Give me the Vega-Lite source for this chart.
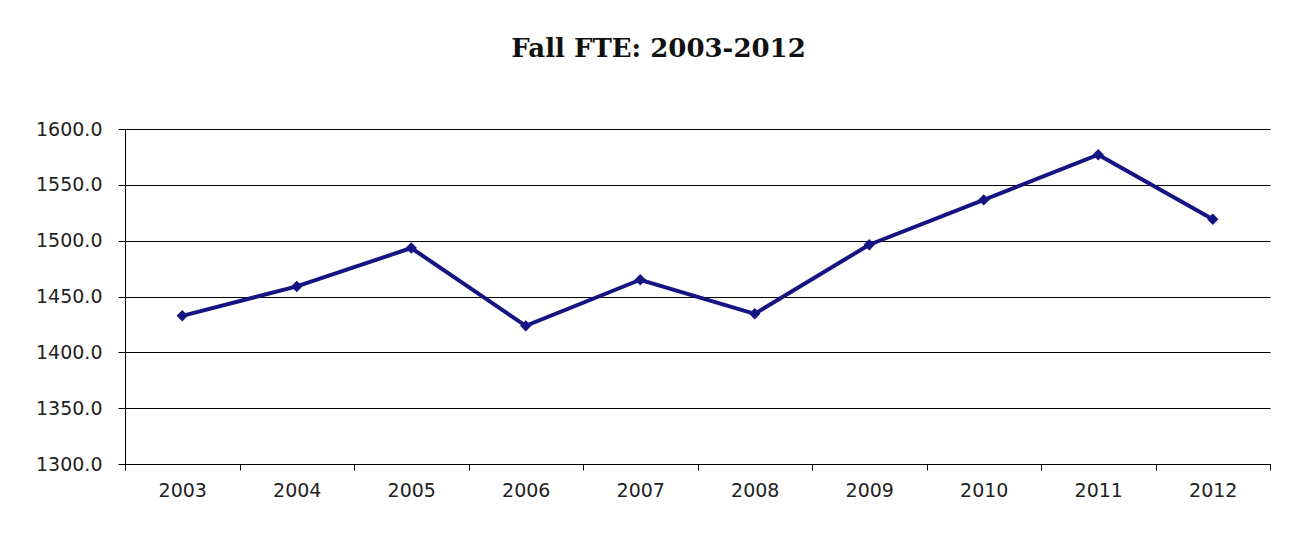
{
  "$schema": "https://vega.github.io/schema/vega-lite/v6.json",
  "width": 1145,
  "height": 335,
  "autosize": {"type": "none"},
  "padding": {"left": 125, "top": 129, "right": 26, "bottom": 86},
  "background": "white",
  "title": {
    "text": "Fall FTE: 2003-2012",
    "font": "DejaVu Serif",
    "fontSize": 26,
    "fontWeight": "bold",
    "color": "#111111",
    "anchor": "middle",
    "dx": -39,
    "offset": 58
  },
  "data": {
    "values": [
      {"year": "2003", "fte": 1432.7},
      {"year": "2004", "fte": 1459.0},
      {"year": "2005", "fte": 1493.4},
      {"year": "2006", "fte": 1423.7},
      {"year": "2007", "fte": 1465.0},
      {"year": "2008", "fte": 1434.5},
      {"year": "2009", "fte": 1496.4},
      {"year": "2010", "fte": 1536.5},
      {"year": "2011", "fte": 1577.0},
      {"year": "2012", "fte": 1519.2}
    ]
  },
  "mark": {
    "type": "line",
    "color": "#141482",
    "strokeWidth": 4,
    "point": {"shape": "diamond", "size": 130, "filled": true, "color": "#141482"}
  },
  "encoding": {
    "x": {
      "field": "year",
      "type": "ordinal",
      "title": null,
      "scale": {"type": "band", "paddingInner": 0, "paddingOuter": 0},
      "axis": {
        "labelAngle": 0,
        "labelFont": "DejaVu Sans",
        "labelFontSize": 19,
        "labelColor": "#222222",
        "tickBand": "extent",
        "tickSize": 6,
        "tickColor": "#000000",
        "domainColor": "#000000",
        "labelPadding": 11,
        "grid": false
      }
    },
    "y": {
      "field": "fte",
      "type": "quantitative",
      "title": null,
      "scale": {"domain": [1300, 1600], "zero": false, "nice": false},
      "axis": {
        "values": [1300, 1350, 1400, 1450, 1500, 1550, 1600],
        "format": ".1f",
        "labelFont": "DejaVu Sans",
        "labelFontSize": 19,
        "labelColor": "#222222",
        "tickSize": 7,
        "tickColor": "#000000",
        "domainColor": "#000000",
        "labelPadding": 16,
        "grid": true,
        "gridColor": "#000000",
        "gridOpacity": 1,
        "gridWidth": 1
      }
    }
  },
  "config": {
    "view": {"stroke": null}
  }
}
